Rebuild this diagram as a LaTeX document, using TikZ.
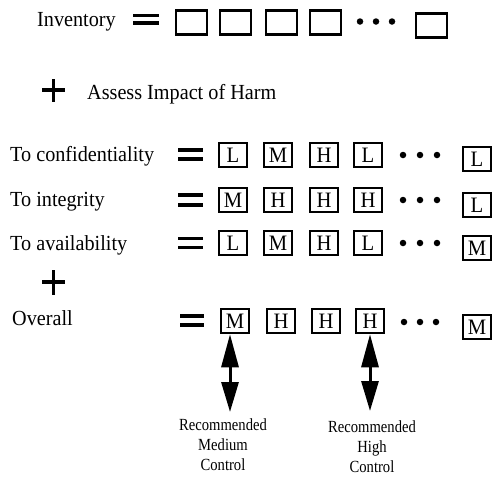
\documentclass[tikz,border=0pt]{standalone}
\usepackage{fontspec}
\setmainfont{Liberation Serif}
\newfontfamily\mytxtfont[FakeStretch=0.94]{Liberation Serif}
\newfontfamily\mylblfont[FakeStretch=0.86]{Liberation Serif}
\usetikzlibrary{arrows.meta}
\begin{document}
\begin{tikzpicture}[x=1pt,y=-1pt,
  txt/.style={anchor=base west, inner sep=0pt, font=\mytxtfont\fontsize{21.5}{24}\selectfont},
  cell/.style={draw, line width=2.5pt, minimum width=28pt, minimum height=24pt, inner sep=0pt,
    font=\mytxtfont\fontsize{22}{24}\selectfont},
  ecell/.style={cell, minimum width=31pt, minimum height=24pt},
  bar/.style={line width=3.6pt},
  dot/.style={circle, fill=black, inner sep=0pt, minimum size=6.5pt},
  dblarrow/.style={line width=3pt, {Triangle[width=17pt,length=33pt]}-{Triangle[width=17pt,length=30pt]}},
  lbl/.style={anchor=north, inner sep=0pt, align=center, font=\mylblfont\fontsize{17}{20}\selectfont}
]
\useasboundingbox (0,0) rectangle (498,477);

% ---- Inventory row
\node[txt] (inv) at (37,26) {Inventory};
\draw[bar] (133,15.5) -- (159,15.5);
\draw[bar] (133,23) -- (159,23);
\node[ecell] (i1) at (191.5,22.5) {};
\node[ecell] (i2) at (235.5,22.5) {};
\node[ecell] (i3) at (281.5,22.5) {};
\node[ecell] (i4) at (325.5,22.5) {};
\node[dot] (id1) at (360,21.5) {};
\node[dot] (id2) at (376,21.5) {};
\node[dot] (id3) at (392,21.5) {};
\node[ecell] (i5) at (431.5,25.5) {};

% ---- plus, assess
\draw[bar] (42,90) -- (65,90);
\draw[bar] (53.5,79) -- (53.5,102);
\node[txt] (assess) at (87,99) {Assess Impact of Harm};

% ---- confidentiality
\node[txt] (conf) at (10,161) {To confidentiality};
\draw[bar] (178,150) -- (203,150);
\draw[bar] (178,159) -- (203,159);
\node[cell] (c1) at (233,155) {L};
\node[cell] (c2) at (278,155) {M};
\node[cell] (c3) at (324,155) {H};
\node[cell] (c4) at (368,155) {L};
\node[dot] (cd1) at (403,155) {};
\node[dot] (cd2) at (420,155) {};
\node[dot] (cd3) at (437,155) {};
\node[cell] (c5) at (477,159) {L};

% ---- integrity
\node[txt] (integ) at (10,206) {To integrity};
\draw[bar] (178,195) -- (203,195);
\draw[bar] (178,205) -- (203,205);
\node[cell] (n1) at (233,200) {M};
\node[cell] (n2) at (278,200) {H};
\node[cell] (n3) at (324,200) {H};
\node[cell] (n4) at (368,200) {H};
\node[dot] (nd1) at (403,200) {};
\node[dot] (nd2) at (420,200) {};
\node[dot] (nd3) at (437,200) {};
\node[cell] (n5) at (477,205) {L};

% ---- availability
\node[txt] (avail) at (10,250) {To availability};
\draw[bar] (178,238.5) -- (203,238.5);
\draw[bar] (178,247.5) -- (203,247.5);
\node[cell] (a1) at (233,243) {L};
\node[cell] (a2) at (278,243) {M};
\node[cell] (a3) at (324,243) {H};
\node[cell] (a4) at (368,243) {L};
\node[dot] (ad1) at (403,243) {};
\node[dot] (ad2) at (420,243) {};
\node[dot] (ad3) at (437,243) {};
\node[cell] (a5) at (477,248) {M};

% ---- plus
\draw[bar] (42,282) -- (65,282);
\draw[bar] (53.5,270) -- (53.5,295);

% ---- overall
\node[txt] (over) at (12,325) {Overall};
\draw[bar] (180,316) -- (204,316);
\draw[bar] (180,325) -- (204,325);
\node[cell] (o1) at (235,321) {M};
\node[cell] (o2) at (281,321) {H};
\node[cell] (o3) at (326,321) {H};
\node[cell] (o4) at (370,321) {H};
\node[dot] (od1) at (404,322) {};
\node[dot] (od2) at (420,322) {};
\node[dot] (od3) at (436,322) {};
\node[cell] (o5) at (477,327) {M};

% ---- arrows and labels
\coordinate (e1) at (230,412);
\coordinate (e2) at (370,411);
\draw[dblarrow] (o1.south -| e1) -- (e1);
\draw[dblarrow] (o4.south) -- (e2);
\node[lbl] (l1) at (223,418.5) {Recommended\\Medium\\Control};
\node[lbl] (l2) at (372,420.5) {Recommended\\High\\Control};
\end{tikzpicture}
\end{document}
